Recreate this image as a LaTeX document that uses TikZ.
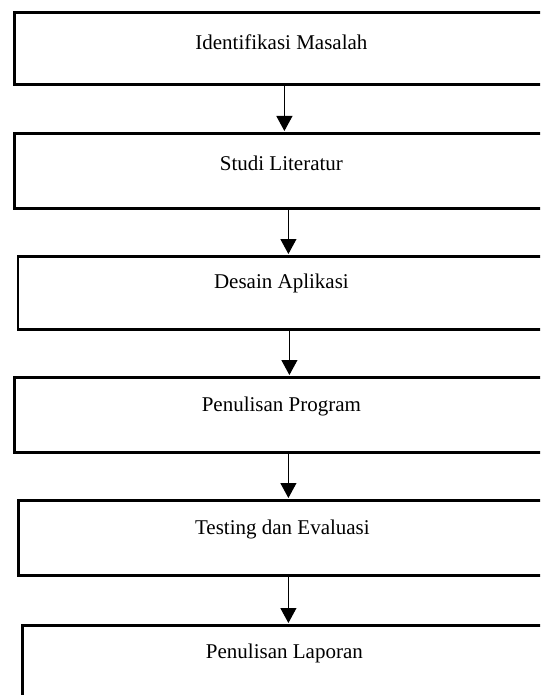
\documentclass[tikz,border=0pt]{standalone}
\usepackage{fontspec}
\setmainfont{Liberation Serif}
\usetikzlibrary{arrows.meta,calc}

\tikzset{
  stepbox/.style={draw=black, line width=2.8pt, rectangle, inner sep=0pt, anchor=north west},
  steptext/.style={font=\fontsize{21}{25}\selectfont, inner sep=0pt, anchor=center},
  flow/.style={draw=black, line width=1.1pt, -{Triangle[width=16pt,length=15pt]}, shorten >=1pt}
}

\begin{document}
\begin{tikzpicture}[x=1pt,y=-1pt]
  \useasboundingbox (0,0) rectangle (540,695);
  \clip (0,0) rectangle (540,695);

  % process boxes
  \node[stepbox, minimum width=540pt, minimum height=72pt] (b1) at (13,11) {};
  \node[stepbox, minimum width=548pt, minimum height=75pt] (b2) at (13,132) {};
  \node[stepbox, minimum width=543pt, minimum height=73pt] (b3) at (16.5,255) {};
  \node[stepbox, minimum width=548pt, minimum height=75pt] (b4) at (13,376) {};
  \node[stepbox, minimum width=540pt, minimum height=75pt] (b5) at (17,499) {};
  \node[stepbox, minimum width=524pt, minimum height=90pt] (b6) at (21,624) {};

  % captions
  \node[steptext] (t1) at ($(b1.north)+(-3,31)$) {Identifikasi Masalah};
  \node[steptext] (t2) at ($(b2.north)+(-7,31)$) {Studi Literatur};
  \node[steptext] (t3) at ($(b3.north)+(-8,28)$) {Desain Aplikasi};
  \node[steptext] (t4) at ($(b4.north)+(-7,30)$) {Penulisan Program};
  \node[steptext] (t5) at ($(b5.north)+(-6,30)$) {Testing dan Evaluasi};
  \node[steptext] (t6) at ($(b6.north)+(0,29)$) {Penulisan Laporan};

  % connectors
  \draw[flow] (b1.south) -- (b1.south |- b2.north);
  \draw[flow] (b2.south) -- (b2.south |- b3.north);
  \draw[flow] (b3.south) -- (b3.south |- b4.north);
  \draw[flow] (b4.south) -- (b4.south |- b5.north);
  \draw[flow] (b5.south) -- (b5.south |- b6.north);
\end{tikzpicture}
\end{document}
